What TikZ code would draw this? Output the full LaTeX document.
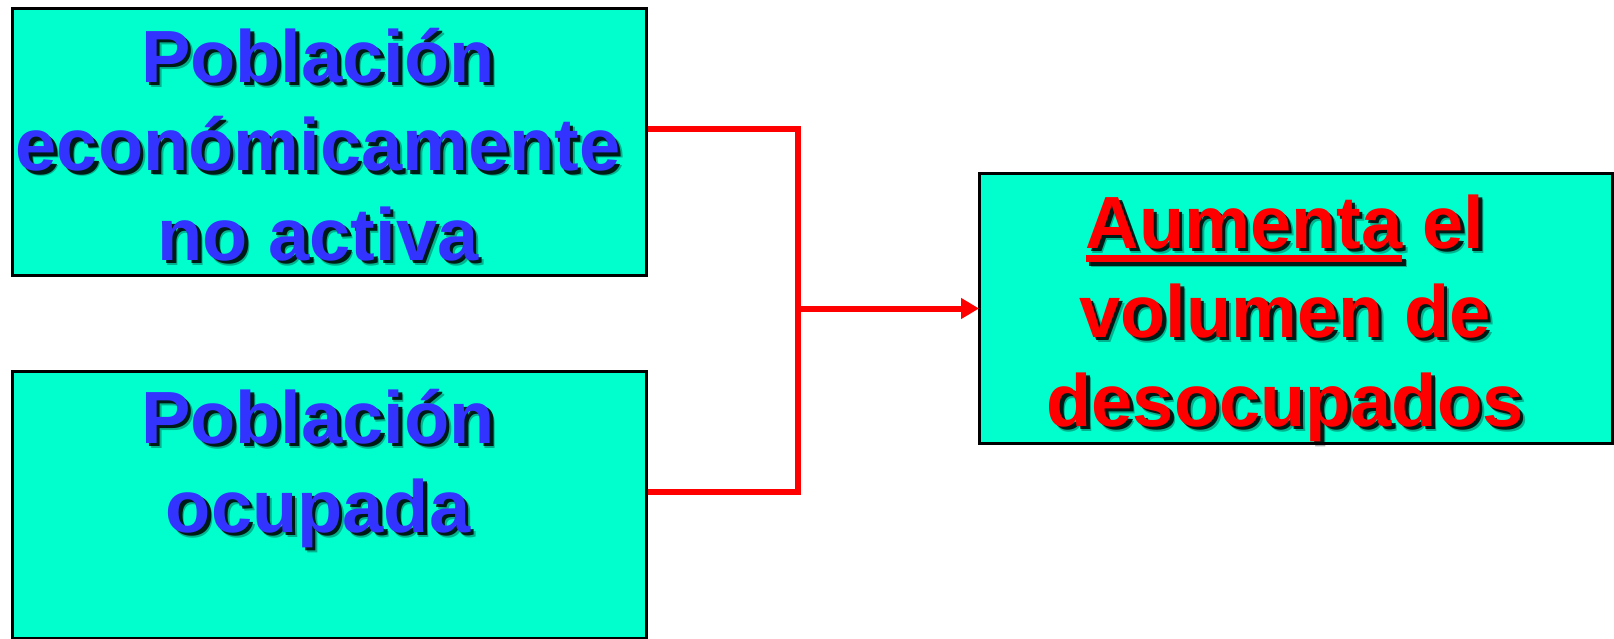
\documentclass[tikz,border=0pt]{standalone}
\usepackage{fontspec}
\setmainfont{Liberation Sans}
\usetikzlibrary{arrows.meta}
\definecolor{aqua}{RGB}{0,255,204}
\definecolor{blu}{RGB}{51,51,255}
\definecolor{rd}{RGB}{255,0,0}
\newcommand\ulword[1]{\setbox0=\hbox{#1}\rlap{\rule[-14pt]{\wd0}{7pt}}\box0\relax}
\tikzset{
  box/.style={draw=black, line width=3pt, fill=aqua, minimum width=634pt, minimum height=267pt, inner sep=0pt, outer sep=0pt},
  txt/.style={font=\bfseries\fontsize{74}{89}\selectfont, align=center, inner sep=0pt, anchor=base},
  shad/.style={txt, text=black, opacity=0.85},
  shadsoft/.style={txt, text=black, opacity=0.3},
  conn/.style={draw=rd, line width=6pt},
}
\begin{document}
\begin{tikzpicture}[x=1pt,y=-1pt]
\useasboundingbox (0,0) rectangle (1614,639);
\coordinate (j) at (798,308.5);
\draw[conn] (647,129) coordinate (c1) -| (j);
\draw[conn] (647,492) coordinate (c2) -| (j);
\node[box] (b1) at (329,142) {};
\node[box] (b2) at (329,504.5) {};
\node[box, minimum width=633pt, minimum height=269pt] (b3) at (1295.5,308.5) {};
\draw[conn,-{Triangle[length=18pt,width=20pt]}] (j) -- (b3.west);
% box 1 text
\node[shadsoft] (t1b) at (323,265) {Población\\económicamente\\no activa};
\node[shad] (t1s) at (321.5,263.5) {Población\\económicamente\\no activa};
\node[txt, text=blu] (t1) at (318,260) {Población\\económicamente\\no activa};
% box 2 text
\node[shadsoft] (t2b) at (323,537) {Población\\ocupada};
\node[shad] (t2s) at (321.5,535.5) {Población\\ocupada};
\node[txt, text=blu] (t2) at (318,532) {Población\\ocupada};
% box 3 text
\node[shadsoft] (t3b) at (1290,431) {\ulword{Aumenta} el\\volumen de\\desocupados};
\node[shad] (t3s) at (1288.5,429.5) {\ulword{Aumenta} el\\volumen de\\desocupados};
\node[txt, text=rd] (t3) at (1285,426) {\ulword{Aumenta} el\\volumen de\\desocupados};
\end{tikzpicture}
\end{document}
